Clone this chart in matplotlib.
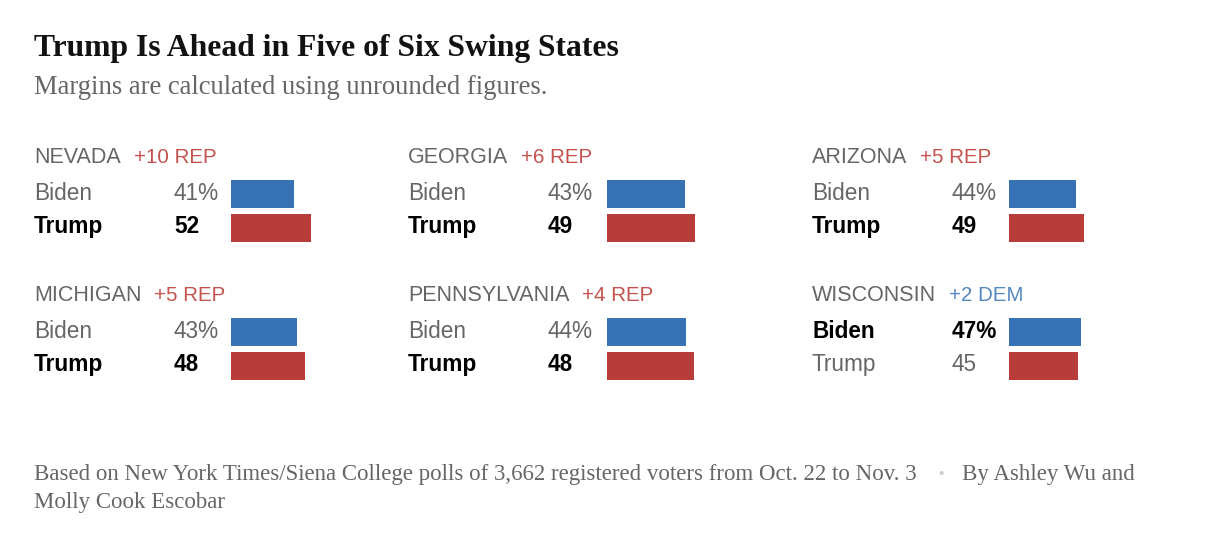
import matplotlib.pyplot as plt

W, H = 1218, 550

states = ['NEVADA', 'GEORGIA', 'ARIZONA', 'MICHIGAN', 'PENNSYLVANIA', 'WISCONSIN']
biden = [41, 43, 44, 43, 44, 47]
trump = [52, 49, 49, 48, 48, 45]
margins = ['+10 REP', '+6 REP', '+5 REP', '+5 REP', '+4 REP', '+2 DEM']

BLUE = '#3672b4'
RED = '#b83d3a'
REP_TXT = '#c4524e'
DEM_TXT = '#5587c0'
GRAY = '#666666'
SANS = 'Liberation Sans'
SERIF = 'Liberation Serif'

fig = plt.figure(figsize=(W / 100, H / 100), dpi=100)
fig.patch.set_facecolor('white')


def fx(x):
    return x / W


def fy(y):
    return 1 - y / H


# title / subtitle
fig.text(fx(34), fy(56), 'Trump Is Ahead in Five of Six Swing States',
         family=SERIF, weight='bold', size=22.8, color='#121212', va='baseline')
fig.text(fx(34), fy(94), 'Margins are calculated using unrounded figures.',
         family=SERIF, size=19.2, color=GRAY, va='baseline')

# panel layout
col_x = [34, 408, 812]
num_dx = 140
bar_x = [231, 607, 1009]
px_per_pt = [1.535, 1.805, 1.53]
row_y = [0, 138]

fig.canvas.draw()
renderer = fig.canvas.get_renderer()

for i, st in enumerate(states):
    c, r = i % 3, i // 3
    x0 = col_x[c]
    dy = row_y[r]
    lab = fig.text(fx(x0), fy(163 + dy), st, family=SANS, size=15.5,
                   color=GRAY, va='baseline')
    ext = lab.get_window_extent(renderer)
    dem = margins[i].endswith('DEM')
    fig.text(fx(ext.x1 + 13), fy(163 + dy), margins[i], family=SANS, size=14.8,
             color=DEM_TXT if dem else REP_TXT, va='baseline')

    b_win = biden[i] > trump[i]
    for name, val, yb, win, suffix in [('Biden', biden[i], 200, b_win, '%'),
                                       ('Trump', trump[i], 233, not b_win, '')]:
        kw = dict(family=SANS, size=16.3, va='baseline',
                  color='black' if win else GRAY,
                  weight='bold' if win else 'normal')
        fig.text(fx(x0), fy(yb + dy), name, **kw)
        fig.text(fx(x0 + num_dx), fy(yb + dy), f'{val}{suffix}', **kw)

    # bars
    top = 180 + dy
    bw = 100 * px_per_pt[c]
    ax = fig.add_axes([fx(bar_x[c]), fy(top + 62), bw / W, 62 / H])
    ax.barh([0, 1], [biden[i], trump[i]], height=0.85, color=[BLUE, RED])
    ax.set_xlim(0, 100)
    ax.set_ylim(1.425, -0.425)
    ax.axis('off')

# footer
fig.text(fx(34), fy(480),
         'Based on New York Times/Siena College polls of 3,662 registered voters from Oct. 22 to Nov. 3',
         family=SERIF, size=16.5, color=GRAY, va='baseline')
fig.text(fx(941), fy(474), '\u2022', family=SANS, size=11, color='#cccccc',
         ha='center', va='center')
fig.text(fx(962), fy(480), 'By Ashley Wu and', family=SERIF, size=16.5,
         color=GRAY, va='baseline')
fig.text(fx(34), fy(508), 'Molly Cook Escobar', family=SERIF, size=16.5,
         color=GRAY, va='baseline')

fig.savefig('out.png', dpi=100, facecolor='white')
